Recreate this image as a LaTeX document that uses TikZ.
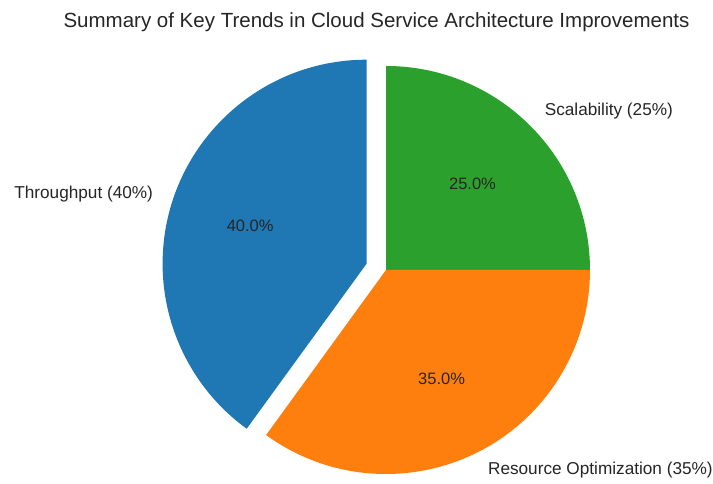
\documentclass[tikz,border=0pt]{standalone}
\usepackage{fontspec}
\setmainfont{Liberation Sans}
\definecolor{tabblue}{HTML}{1F77B4}
\definecolor{taborange}{HTML}{FF7F0E}
\definecolor{tabgreen}{HTML}{2CA02C}
\definecolor{txt}{HTML}{262626}
\begin{document}
\begin{tikzpicture}[x=1pt,y=1pt,
  lbl/.style={text=txt,font=\fontsize{17.2}{20}\selectfont,inner sep=0pt},
  pct/.style={text=txt,font=\fontsize{16.5}{20}\selectfont,inner sep=0pt}]
\useasboundingbox (0,0) rectangle (713,484);
\fill[white] (0,0) rectangle (713,484);
\coordinate (C) at (386,214);
\coordinate (B) at (366.6,220.3);
\fill[tabgreen] (C) -- ++(0:204) arc[start angle=0,end angle=90,radius=204] -- cycle;
\fill[taborange] (C) -- ++(-126:204) arc[start angle=-126,end angle=0,radius=204] -- cycle;
\fill[tabblue] (B) -- ++(90:204) arc[start angle=90,end angle=234,radius=204] -- cycle;
\node[text=txt,font=\fontsize{20.5}{24}\selectfont,inner sep=0pt] (title) at (376.5,462) {Summary of Key Trends in Cloud Service Architecture Improvements};
\node[lbl,anchor=west] (ls) at (544.6,372.7) {Scalability (25\%)};
\node[lbl,anchor=east] (lt) at (153.2,289.6) {Throughput (40\%)};
\node[lbl,anchor=west] (lr) at (487.9,14) {Resource Optimization (35\%)};
\node[pct] (ps) at (472.5,300.5) {25.0\%};
\node[pct] (pt) at (250.2,258.1) {40.0\%};
\node[pct] (pr) at (441.6,105) {35.0\%};
\end{tikzpicture}
\end{document}
